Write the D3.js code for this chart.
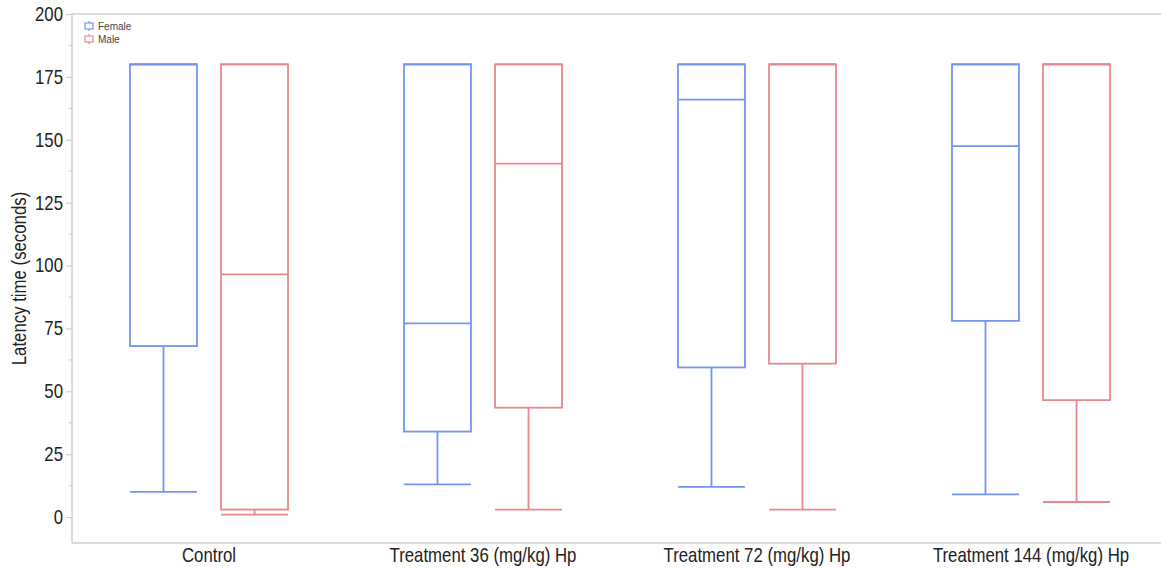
<!DOCTYPE html>
<html><head><meta charset="utf-8">
<script src="https://cdn.jsdelivr.net/npm/d3@7"></script>
<style>body{margin:0;background:#fff}svg{display:block}text{font-family:"Liberation Sans",Arial,sans-serif}</style>
</head><body><svg id="c" width="1161" height="569"></svg>
<script>
const categories = ["Control","Treatment 36 (mg/kg) Hp","Treatment 72 (mg/kg) Hp","Treatment 144 (mg/kg) Hp"];
const groups = ["Female","Male"];
const femaleLow = [10, 13, 12, 9];
const femaleQ1 = [68, 34, 59.5, 78];
const femaleMedian = [180, 77, 166, 147.5];
const femaleQ3 = [180, 180, 180, 180];
const femaleHigh = [180, 180, 180, 180];
const maleLow = [1, 3, 3, 6];
const maleQ1 = [3, 43.5, 61, 46.5];
const maleMedian = [96.5, 140.5, 180, 180];
const maleQ3 = [180, 180, 180, 180];
const maleHigh = [180, 180, 180, 180];
const yTicks = [0, 25, 50, 75, 100, 125, 150, 175, 200];
const colors = {Female: "#7395f0", Male: "#ea8690"};

const svg = d3.select("#c");
const L = 72, T = 14, B = 543, R = 1168;
const SX = 0.84;
const y = d3.scaleLinear().domain([-10.3, 200]).range([B, T]);
const x = d3.scaleBand().domain(categories).range([L, R]);
const xs = d3.scaleBand().domain(groups).range([0, x.bandwidth()]).paddingInner(0.264).paddingOuter(0.637);

// frame
svg.append("line").attr("x1", L).attr("x2", 1161).attr("y1", T).attr("y2", T).attr("stroke", "#dcdcdc").attr("stroke-width", 2);
svg.append("line").attr("x1", L).attr("x2", 1161).attr("y1", B).attr("y2", B).attr("stroke", "#dcdcdc").attr("stroke-width", 2);

// y axis
const ya = svg.append("g").attr("transform", `translate(${L},0)`)
  .call(d3.axisLeft(y).tickValues(yTicks).tickSize(6).tickPadding(5));
ya.select(".domain").attr("stroke", "#dcdcdc").attr("stroke-width", 2).attr("d", `M0,${T}V${B}`);
ya.selectAll(".tick line").attr("stroke", "#c8c8c8");
ya.selectAll(".tick text").attr("font-size", 20).attr("fill", "#222")
  .attr("x", -9 / SX).attr("transform", `scale(${SX},1)`);
const minor = d3.range(12.5, 200, 25);
ya.selectAll(".minor").data(minor).enter().append("line")
  .attr("x1", -3).attr("x2", 0).attr("y1", d => y(d)).attr("y2", d => y(d)).attr("stroke", "#c8c8c8");

// x axis labels
const xa = svg.append("g").attr("transform", `translate(0,${B})`).call(d3.axisBottom(x).tickSize(0).tickPadding(0));
xa.select(".domain").remove();
xa.selectAll(".tick text").attr("font-size", 20).attr("fill", "#222")
  .attr("y", 19).attr("dy", 0).attr("transform", `scale(${SX},1)`);

// y title
svg.append("text").attr("transform", `translate(26,${(T + B) / 2 + 0}) rotate(-90) scale(${SX},1)`)
  .attr("text-anchor", "middle").attr("font-size", 20).attr("fill", "#222").text("Latency time (seconds)");

// boxes
const series = {
  Female: {low: femaleLow, q1: femaleQ1, med: femaleMedian, q3: femaleQ3, high: femaleHigh},
  Male: {low: maleLow, q1: maleQ1, med: maleMedian, q3: maleQ3, high: maleHigh}
};
groups.forEach(g => {
  const s = series[g];
  categories.forEach((c, i) => {
    const x0 = x(c) + xs(g), w = xs.bandwidth(), cx = x0 + w / 2;
    const gg = svg.append("g").attr("stroke", colors[g]).attr("stroke-width", 1.8).attr("fill", "none");
    gg.append("line").attr("x1", cx).attr("x2", cx).attr("y1", y(s.low[i])).attr("y2", y(s.q1[i]));
    gg.append("line").attr("x1", x0).attr("x2", x0 + w).attr("y1", y(s.low[i])).attr("y2", y(s.low[i]));
    gg.append("line").attr("x1", cx).attr("x2", cx).attr("y1", y(s.high[i])).attr("y2", y(s.q3[i]));
    gg.append("line").attr("x1", x0).attr("x2", x0 + w).attr("y1", y(s.high[i])).attr("y2", y(s.high[i]));
    gg.append("rect").attr("x", x0).attr("width", w).attr("y", y(s.q3[i])).attr("height", y(s.q1[i]) - y(s.q3[i]));
    gg.append("line").attr("x1", x0).attr("x2", x0 + w).attr("y1", y(s.med[i])).attr("y2", y(s.med[i]));
  });
});

// legend
const lg = svg.append("g").attr("transform", "translate(85,26)");
groups.forEach((g, i) => {
  const r = lg.append("g").attr("transform", `translate(0,${i * 13})`);
  r.append("rect").attr("x", 0).attr("y", -3).attr("width", 8).attr("height", 6).attr("fill", "none").attr("stroke", colors[g]).attr("stroke-width", 1.2);
  r.append("line").attr("x1", 4).attr("x2", 4).attr("y1", -5).attr("y2", -3).attr("stroke", colors[g]).attr("stroke-width", 1.2);
  r.append("line").attr("x1", 4).attr("x2", 4).attr("y1", 3).attr("y2", 5).attr("stroke", colors[g]).attr("stroke-width", 1.2);
  r.append("text").attr("x", 13).attr("y", 3.5).attr("font-size", 10).attr("fill", "#444").text(g);
});
</script></body></html>
